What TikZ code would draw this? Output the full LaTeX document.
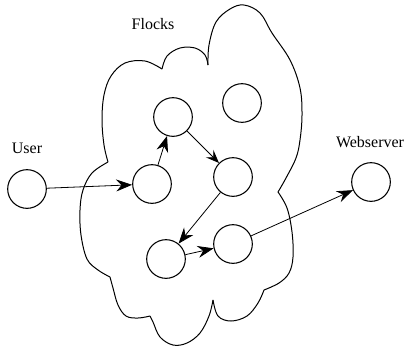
\documentclass[tikz,border=0pt]{standalone}
\usepackage{fontspec}
\setmainfont{Liberation Serif}
\usetikzlibrary{arrows.meta}
\begin{document}
\begin{tikzpicture}[x=0.75pt,y=-0.75pt,
  peer/.style={circle,draw,line width=0.8pt,inner sep=0pt,minimum size=29pt},
  link/.style={line width=0.6pt,-{Stealth[length=12pt,width=9pt,inset=4pt]}},
  thinlink/.style={line width=0.6pt,-{Stealth[length=10pt,width=8pt,inset=4pt]}},
  cloudline/.style={line width=0.75pt,line join=round},
  lbl/.style={font=\fontsize{12}{14}\selectfont,inner sep=0pt}]
\useasboundingbox (0,0) rectangle (409,351);

% cloud outline, one smooth lobe between each pair of cusps
\draw[cloudline] plot[smooth,tension=0.6] coordinates
  {(108,162) (104,145) (102,120) (104,95) (111,76) (125,63) (145,61) (162,69)};
\draw[cloudline] plot[smooth,tension=0.6] coordinates
  {(162,69) (167,56) (180,48) (195,48) (205,55) (208,65)};
\draw[cloudline] plot[smooth,tension=0.6] coordinates
  {(208,65) (209,45) (216,22) (230,9) (244,5) (260,13) (272,33) (290,60) (300,88) (302,115) (300,140) (296,158) (286,178) (278,192)};
\draw[cloudline] plot[smooth,tension=0.6] coordinates
  {(278,192) (287,208) (292,232) (293,257) (289,273) (279,283) (264,290)};
\draw[cloudline] plot[smooth,tension=0.6] coordinates
  {(264,290) (258,303) (247,316) (231,321) (218,316) (213,300)};
\draw[cloudline] plot[smooth,tension=0.6] coordinates
  {(213,300) (209,316) (200,333) (187,343) (173,345) (160,337) (153,322) (150,316)};
\draw[cloudline] plot[smooth,tension=0.6] coordinates
  {(150,316) (138,318) (126,316) (118,305) (113,288) (110,277)};
\draw[cloudline] plot[smooth,tension=0.6] coordinates
  {(110,277) (98,270) (87,259) (81,235) (80,210) (83,190) (92,173) (108,162)};

% peers
\node[peer] (user) at (27,189) {};
\node[peer] (a) at (152,184) {};
\node[peer] (b) at (173,117) {};
\node[peer] (c) at (242,103) {};
\node[peer] (d) at (233,177) {};
\node[peer] (e) at (166,259) {};
\node[peer] (f) at (233,244) {};
\node[peer] (web) at (371,182) {};

% labels
\node[lbl] (userlbl) at (27,148) {User};
\node[lbl] (flockslbl) at (153,24) {Flocks};
\node[lbl] (weblbl) at (370,142) {Webserver};

% request path
\draw[link] (user) -- (a);
\draw[link] (a) -- (b);
\draw[thinlink] (b) -- (d);
\draw[link] (d) -- (e);
\draw[link] (e) -- (f);
\draw[link] (f) -- (web);
\end{tikzpicture}
\end{document}
